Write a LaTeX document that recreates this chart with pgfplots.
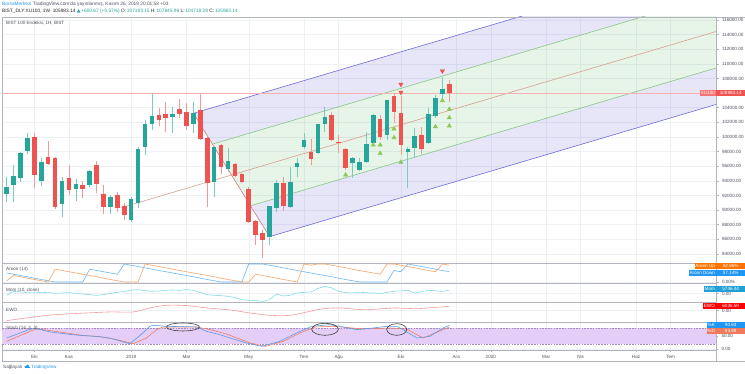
\documentclass[border=0pt]{standalone}
\usepackage{pgfplots}
\pgfplotsset{compat=1.18}
\usepackage{pgfplotstable}
\usepackage{fontspec}
\setmainfont{Liberation Sans}
\newfontfamily\symf{DejaVu Sans}
\pgfkeys{/pgf/number format/assume math mode=true}

\definecolor{tvgreen}{HTML}{26A69A}
\definecolor{tvred}{HTML}{EF5350}
\definecolor{tvblue}{HTML}{2196F3}
\definecolor{gridc}{HTML}{EDF0F5}
\definecolor{framec}{HTML}{B2B5BE}
\definecolor{txt}{HTML}{4C525E}
\definecolor{pfblue}{HTML}{6E6EDB}
\definecolor{pfgreen}{HTML}{86C986}
\definecolor{pfmed}{HTML}{D9A090}
\definecolor{pfbc}{HTML}{D87A7A}
\definecolor{pffb}{HTML}{5050D0}
\definecolor{pffg}{HTML}{4CAF50}
\definecolor{trig}{HTML}{8CC85A}
\definecolor{aroonup}{HTML}{F7A468}
\definecolor{aroondn}{HTML}{6AB7F2}
\definecolor{momc}{HTML}{7FDDE9}
\definecolor{ewoc}{HTML}{F59A9A}
\definecolor{stband}{HTML}{E4CEF7}
\definecolor{stdash}{HTML}{A48BBF}
\definecolor{stk}{HTML}{5A9BE6}
\definecolor{std}{HTML}{F07A5E}

\newcommand\fs{\fontsize{4.6}{5.2}\selectfont}

\pgfplotstableread{
i o h l c
0 92161 94576 91158 93118
1 93437 96172 91158 94713
2 94349 97900 93802 97858
3 98132 100502 97676 99909
5 93984 97175 93346 96536
8 90793 94576 89000 93938
10 92890 94212 91249 93528
12 93391 95488 93209 95351
15 90429 92070 89426 91796
18 88700 91800 88400 91523
19 90930 98679 90300 98360
20 98588 102325 97539 101733
21 101733 105971 100958 102872
24 102781 104148 100593 103145
27 101732 104832 100593 103236
30 93892 98800 91841 98678
32 95579 98450 95260 96764
38 86372 90600 85232 90565
39 90246 94120 89790 93665
41 90383 95852 90300 93892
42 95944 97083 94485 96399
43 98587 100502 98314 99590
45 97768 101800 97631 101733
46 101733 104149 100731 102782
50 96401 97312 94349 97084
51 95489 97084 95400 96628
52 96628 100731 96400 98999
53 99135 103100 99000 103010
55 100275 105100 99591 105061
58 97905 98679 92982 98315
59 98452 101278 97175 100138
61 99135 103921 99000 103101
62 102873 105744 102554 105289
63 105836 108251 105289 106519
}\upc

\pgfplotstableread{
i o h l c
4 99955 100502 93072 94759
6 97266 99454 96172 96309
7 97129 97200 90155 90474
9 94349 96172 92070 92708
11 93437 93984 91614 92844
13 96172 96719 92297 93619
14 92161 93437 89426 90383
16 92070 92434 89791 90338
17 90565 90930 88650 89334
22 103008 103920 101504 102325
23 103145 104832 100729 102598
25 103783 105151 102600 103145
26 103464 104604 100957 101504
28 103692 105880 99590 99727
29 99909 99950 90474 93665
31 98906 99000 94941 95944
33 96308 96490 94485 94667
34 94941 95123 93665 93847
35 92935 93208 88286 88423
36 88514 88600 85232 86600
37 86828 87283 83409 85916
40 93665 94485 89927 90565
44 97996 99728 96173 96993
47 103010 103465 99455 99591
48 99350 100275 97768 99200
49 98360 98451 95489 95717
54 102463 103010 99591 100047
56 105653 105972 101870 103374
57 103237 105653 97540 98907
60 100275 101414 97631 98360
64 107193.15 107845.98 104718.29 105983.14
}\dnc

\pgfplotstableread{
i up dn
0 7 50
1 36 43
2 29 36
3 21 29
4 14 21
5 7 14
6 0 7
7 71 0
8 64 0
9 57 0
10 50 0
11 43 0
12 36 71
13 29 64
14 21 57
15 14 50
16 7 43
17 0 100
18 0 93
19 0 86
20 100 79
21 93 71
22 86 64
23 79 57
24 71 50
25 64 43
26 57 36
27 50 29
28 43 21
29 36 14
30 29 7
31 21 0
32 14 0
33 7 0
34 0 0
35 0 100
36 43 100
37 36 100
38 29 93
39 21 86
40 14 79
41 7 71
42 0 64
43 100 57
44 93 50
45 100 43
46 100 36
47 93 29
48 86 21
49 79 14
50 71 7
51 64 0
52 57 0
53 50 0
54 43 0
55 100 0
56 100 64
57 93 57
58 86 100
59 79 93
60 71 86
61 64 79
62 57 71
63 100 64
64 92.86 57.14
}\aroon

\pgfplotsset{
  tvbase/.style={
    scale only axis, width=714pt,
    xmin=-0.68, xmax=102.56,
    clip mode=individual,
    scaled x ticks=false, scaled y ticks=false,
    axis line style={draw=framec, line width=0.6pt},
    xtick={4,9,18,26,35,43,48,57,65,70,78,83,91,96},
    xticklabels={}, xtick style={draw=none},
    xmajorgrids, ymajorgrids,
    grid style={draw=gridc, line width=0.5pt},
    ytick pos=right, yticklabel pos=right,
    tick align=outside, major tick length=2.5pt,
    ytick style={draw=framec, line width=0.5pt},
    ticklabel style={font=\fs, text=txt},
  },
  candle/.style={mark=none, draw=none, forget plot, error bars/.cd, y dir=both, y explicit, error mark=none},
}

\begin{document}
\begin{tikzpicture}
\fill[white] (0pt,0pt) rectangle (745pt,374pt);
\path[use as bounding box] (0pt,0pt) rectangle (745pt,374pt);

% ---------------- main price panel (pixel rows 17..263)
\begin{axis}[tvbase, at={(2pt,111pt)}, anchor=south west, height=246pt,
  ymin=82770, ymax=116410,
  ytick={84000,86000,88000,90000,92000,94000,96000,98000,100000,102000,104000,108000,110000,112000,114000,116000},
  yticklabel style={/pgf/number format/fixed, /pgf/number format/fixed zerofill, /pgf/number format/precision=2, /pgf/number format/1000 sep={}},
]
\addplot[draw=none, fill=pffb, fill opacity=0.14, forget plot] coordinates {(27,103240) (102.56,124397) (102.56,119409) (29.75,99022.5)} -- cycle;
\addplot[draw=none, fill=pffg, fill opacity=0.13, forget plot] coordinates {(29.75,99022.5) (102.56,119409) (102.56,109434) (35.25,90587.5)} -- cycle;
\addplot[draw=none, fill=pffb, fill opacity=0.14, forget plot] coordinates {(35.25,90587.5) (102.56,109434) (102.56,104447) (38,86370)} -- cycle;
\addplot[pfblue, line width=0.6pt] coordinates {(27,103240) (102.56,124397)};
\addplot[pfgreen, line width=0.6pt] coordinates {(29.75,99022.5) (102.56,119409)};
\addplot[pfmed, line width=0.6pt] coordinates {(16.6,90350) (102.56,114422)};
\addplot[pfgreen, line width=0.6pt] coordinates {(35.25,90587.5) (102.56,109434)};
\addplot[pfblue, line width=0.6pt] coordinates {(38,86370) (102.56,104447)};
\addplot[pfbc, line width=0.6pt] coordinates {(27,103240) (38,86370)};
\addplot[tvred!45, line width=0.5pt] coordinates {(-0.68,105983.14) (102.56,105983.14)};
\addplot[candle, error bar style={draw=tvgreen!60!white, line width=0.7pt}]
  table[x=i, y expr={(\thisrow{h}+\thisrow{l})/2}, y error expr={(\thisrow{h}-\thisrow{l})/2}] {\upc};
\addplot[candle, error bar style={draw=tvred!60!white, line width=0.7pt}]
  table[x=i, y expr={(\thisrow{h}+\thisrow{l})/2}, y error expr={(\thisrow{h}-\thisrow{l})/2}] {\dnc};
\addplot[candle, error bar style={draw=tvgreen, line width=4.6pt}]
  table[x=i, y expr={(\thisrow{o}+\thisrow{c})/2}, y error expr={max(abs(\thisrow{c}-\thisrow{o})/2,60)}] {\upc};
\addplot[candle, error bar style={draw=tvred, line width=4.6pt}]
  table[x=i, y expr={(\thisrow{o}+\thisrow{c})/2}, y error expr={max(abs(\thisrow{c}-\thisrow{o})/2,60)}] {\dnc};
\addplot[only marks, mark=triangle*, mark size=2.5pt, color=trig] coordinates {(49,94804) (53,98906) (54,98906) (54,97771) (56,101094) (56,99905) (57,96541) (62,101409) (63,104964) (64,103788) (64,102640) (64,101505)};
\addplot[only marks, mark=triangle*, mark size=2.5pt, color=tvred, mark options={rotate=180}] coordinates {(57,107207) (57,106113) (63,109026)};
\end{axis}

% ---------------- Aroon (rows 263..283)
\begin{axis}[tvbase, at={(2pt,91pt)}, anchor=south west, height=20pt,
  ymin=-5.56, ymax=105.56, ytick={0}, yticklabels={0.00\%}]
\addplot[aroondn, line width=0.6pt] table[x=i, y=dn] {\aroon};
\addplot[aroonup, line width=0.6pt] table[x=i, y=up] {\aroon};
\end{axis}

% ---------------- Momentum (rows 283..302)
\begin{axis}[tvbase, at={(2pt,72pt)}, anchor=south west, height=19pt,
  ymin=-16310, ymax=19310, ytick={0}, yticklabels={0.00},
  yticklabel style={yshift=-0.8pt}]
\addplot[momc, line width=0.6pt] coordinates {(0,-3800) (1,3700) (2,2400) (3,1200) (4,560) (5,1800) (6,1200) (7,-60) (8,560) (9,1200) (10,-60) (11,-1300) (12,-2560) (13,-3800) (14,-2560) (15,-60) (16,1800) (17,3700) (18,5600) (19,6800) (20,4900) (21,3700) (22,4300) (23,5600) (24,6200) (25,5600) (26,6800) (27,5600) (28,1200) (29,-2560) (30,-3800) (31,-4400) (32,-5690) (33,-8000) (34,-11900) (35,-13000) (36,-13800) (37,-15000) (38,-11900) (39,-1300) (40,-5000) (41,-3800) (42,560) (43,1800) (44,2400) (45,9000) (46,13100) (47,10000) (48,3700) (49,1200) (50,560) (51,1800) (52,1200) (53,560) (54,-700) (55,1800) (56,3700) (57,4500) (58,5600) (59,560) (60,3000) (61,5600) (62,4600) (63,3700) (64,5746.44)};
\end{axis}

% ---------------- EWO (rows 302..322)
\begin{axis}[tvbase, at={(2pt,52pt)}, anchor=south west, height=20pt,
  ymin=-15480, ymax=11920, ytick={0}, yticklabels={0.00}]
\addplot[ewoc, line width=0.6pt, smooth] coordinates {(0,-13650) (1,-12300) (3.5,-9100) (5.9,-6300) (8.7,-4500) (11.6,-3100) (15,-1700) (18.3,-1700) (20.7,3800) (23.1,7400) (26,7000) (28.9,3800) (32.5,800) (35.2,-3150) (38.1,-6350) (41,-6350) (43.4,-1780) (45.8,2800) (48.2,3720) (51.6,1420) (54.5,2800) (56.4,3720) (59.3,2800) (62.2,4630) (64,6036.59)};
\end{axis}

% ---------------- Stochastic (rows 322..350)
\begin{axis}[tvbase, at={(2pt,24pt)}, anchor=south west, height=28pt,
  ymin=-3.8, ymax=103.05, ytick={0,50}, yticklabels={0.00,50.00},
  xticklabels={Eki,Kas,2019,Mar,May,Tem,Ağu,Eki,Ara,2020,Mar,Nis,Haz,Tem},
  xtick style={draw=framec, line width=0.5pt}, xtick pos=bottom,
  major tick length=2pt]
\addplot[draw=none, fill=stband, forget plot] coordinates {(-0.68,20) (102.56,20) (102.56,80) (-0.68,80)} -- cycle;
\addplot[stdash, line width=0.5pt, dash pattern=on 1.6pt off 1.2pt] coordinates {(-0.68,80) (102.56,80)};
\addplot[stdash, line width=0.5pt, dash pattern=on 1.6pt off 1.2pt] coordinates {(-0.68,20) (102.56,20)};
\addplot[std, line width=0.6pt] coordinates {(0,29.3) (4.3,77.6) (6.3,70) (8.7,61) (11,52) (13.5,47) (15.9,35.6) (18.3,20.3) (20.2,42) (21.7,73.8) (22.6,84) (27.5,84) (29.4,73.8) (31.8,57) (33.5,40) (35.2,22.9) (37.4,10.2) (40,29.3) (42.4,61.1) (44.6,84) (47.2,86.5) (51.6,76.3) (55.4,80.2) (57.8,76.3) (60.2,42) (63.1,73.8) (64,83.89)};
\addplot[stk, line width=0.6pt] coordinates {(0,42) (3.6,77.6) (4.3,77.6) (6.3,65) (8.7,57) (10.6,52) (13,48) (14.9,42) (16.9,26.7) (17.8,20.3) (19.3,52) (20.7,86.5) (21.2,90.3) (23.1,86.5) (27.5,84) (28.9,67.4) (30.8,54.7) (32.3,42) (34.7,22.9) (36.9,10.2) (39.5,29.3) (41.9,61.1) (44.1,86.5) (46.7,92.9) (48.2,86.5) (50.6,73.8) (53,80.2) (54.9,86.5) (56.4,86.5) (57.3,73.8) (59.3,42) (61.2,48.3) (63.1,80.2) (64,90.63)};
\end{axis}

% ---------------- frame extras
\draw[framec, line width=0.6pt] (2pt,357pt) -- (745pt,357pt);
\draw[framec, line width=0.6pt] (2pt,24pt) -- (2pt,13pt) -- (745pt,13pt);
\draw[framec, line width=0.6pt] (716pt,24pt) -- (716pt,13pt);

% ---------------- hand-drawn ellipses on stochastic
\draw[black!80, line width=0.55pt] (183pt,47pt) ellipse [x radius=16.5pt, y radius=4pt];
\draw[black!80, line width=0.55pt] (325pt,44.7pt) ellipse [x radius=13.3pt, y radius=6pt];
\draw[black!80, line width=0.55pt] (396.7pt,44.5pt) ellipse [x radius=10pt, y radius=5.8pt];

% ---------------- header
\node[anchor=west, inner sep=0pt, font=\fontsize{4.8}{5.5}\selectfont] at (2pt,369.5pt)
  {\textcolor{tvblue}{BorsaMerkezi} \textcolor{txt}{TradingView.com'da yayınlanmış, Kasım 26, 2019 20:01:58 +03}};
\node[anchor=west, inner sep=0pt, font=\fontsize{4.8}{5.5}\selectfont] at (2pt,362.5pt)
  {\textcolor{black!85}{BIST\_DLY:XU100, 1W}\ \ \textcolor{black!85}{105983.14} \textcolor{tvgreen}{{\symf ▲}\,+600.67 (+0.57\%)} \textcolor{black!85}{O:}\,\textcolor{tvgreen}{107193.15} \textcolor{black!85}{H:}\,\textcolor{tvgreen}{107845.98} \textcolor{black!85}{L:}\,\textcolor{tvgreen}{104718.29} \textcolor{black!85}{C:}\,\textcolor{tvgreen}{105983.14}};
\node[anchor=west, inner sep=0pt, font=\fs, text=txt] at (6pt,351pt) {BIST 100 Endeksi, 1H, BIST};

% ---------------- indicator titles
\node[anchor=west, inner sep=0pt, font=\fs, text=txt] at (6pt,104.5pt) {Aroon (14)};
\node[anchor=west, inner sep=0pt, font=\fs, text=txt] at (6pt,83.7pt) {Mom (10, close)};
\node[anchor=west, inner sep=0pt, font=\fs, text=txt] at (6pt,64.3pt) {EWO};
\node[anchor=west, inner sep=0pt, font=\fs, text=txt] at (6pt,45.5pt) {Stoch (14, 3, 3)};

% ---------------- right-side value labels
\tikzset{vl/.style={font=\fs, text=white, inner sep=0.9pt, minimum height=6pt}}
\node[vl, anchor=east, fill=tvred!80] at (716pt,280.75pt) {XU100};
\node[vl, anchor=west, fill=tvred, minimum width=29pt] at (716pt,280.75pt) {105983.14};
\node[vl, anchor=east, fill=orange!90!red] at (716pt,108pt) {Aroon Up};
\node[vl, anchor=west, fill=orange!90!red, minimum width=29pt] at (716pt,108pt) {92.86\%};
\node[vl, anchor=east, fill=tvblue] at (716pt,101.3pt) {Aroon Down};
\node[vl, anchor=west, fill=tvblue, minimum width=29pt] at (716pt,101.3pt) {57.14\%};
\node[vl, anchor=east, fill=cyan!70!teal] at (716pt,85pt) {Mom};
\node[vl, anchor=west, fill=cyan!70!teal, minimum width=29pt] at (716pt,85pt) {5746.44};
\node[vl, anchor=east, fill=red] at (716pt,67.6pt) {EWO};
\node[vl, anchor=west, fill=red, minimum width=29pt] at (716pt,67.6pt) {6036.59};
\node[vl, anchor=east, fill=tvblue] at (716pt,49.3pt) {\%K};
\node[vl, anchor=west, fill=tvblue, minimum width=29pt] at (716pt,49.3pt) {90.63};
\node[vl, anchor=east, fill=std] at (716pt,43.3pt) {\%D};
\node[vl, anchor=west, fill=std, minimum width=29pt] at (716pt,43.3pt) {83.89};

% ---------------- footer
\node[anchor=west, inner sep=0pt, font=\fs, text=txt] at (3pt,7pt) {Sağlayan};
\fill[tvblue] (24.5pt,5.5pt) rectangle (29.5pt,7.2pt);
\fill[tvblue] (25.6pt,7pt) circle (1.3pt);
\fill[tvblue] (27.6pt,7.7pt) circle (1.7pt);
\node[anchor=west, inner sep=0pt, font=\fs, text=tvblue] at (31pt,7pt) {TradingView};
\end{tikzpicture}
\end{document}
